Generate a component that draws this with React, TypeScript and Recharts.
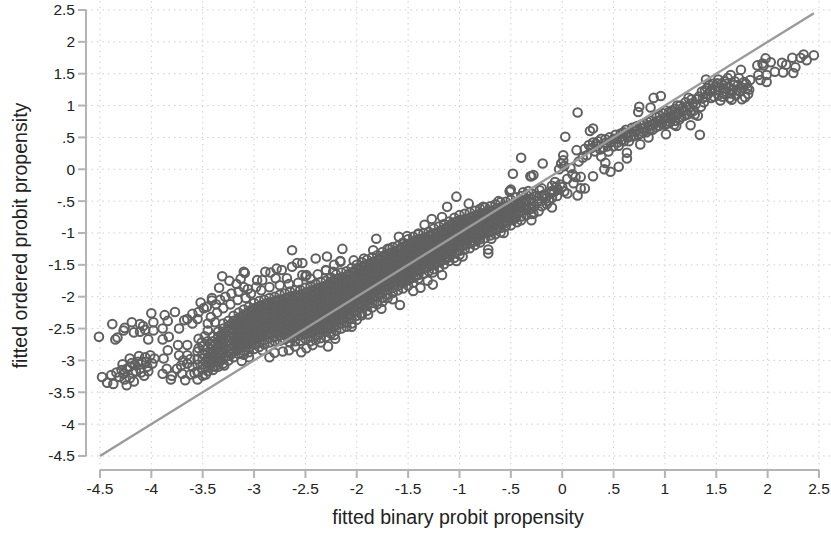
import React from "react";
import {
  ScatterChart,
  Scatter,
  XAxis,
  YAxis,
  CartesianGrid,
  ReferenceLine,
  Label,
} from "recharts";

const axisTicks = [-4.5, -4, -3.5, -3, -2.5, -2, -1.5, -1, -0.5, 0, 0.5, 1, 1.5, 2, 2.5];

// [binary fit, ordered fit] readings, outside the solid band
const upperArm = [
  [-4.51, -2.63], [-4.38, -2.43], [-4.35, -2.67], [-4.33, -2.64], [-4.27, -2.53], [-4.26, -2.49], [-4.19, -2.4],
  [-4.17, -2.56], [-4.11, -2.43], [-4.11, -2.55], [-4.06, -2.52], [-4.0, -2.26], [-4.03, -2.67], [-3.98, -2.4],
  [-3.98, -2.53], [-4.08, -2.46], [-3.87, -2.29], [-3.89, -2.5], [-3.89, -2.67], [-3.83, -2.63], [-3.84, -2.38],
  [-3.77, -2.24], [-3.73, -2.5], [-3.68, -2.37], [-3.65, -2.35], [-3.6, -2.27], [-3.6, -2.42], [-3.55, -2.35],
  [-3.54, -2.24], [-3.49, -2.18], [-3.46, -2.16], [-3.52, -2.09], [-3.41, -2.02], [-3.41, -2.06], [-3.34, -1.86],
  [-3.31, -1.68], [-3.24, -1.75], [-3.17, -1.8], [-3.1, -1.61], [-3.09, -1.63], [-3.13, -1.72], [-3.1, -1.85],
  [-2.97, -1.74], [-2.92, -1.74], [-2.89, -1.61], [-2.84, -1.62], [-2.78, -1.56], [-2.73, -1.58], [-2.63, -1.27],
  [-2.63, -1.53], [-2.58, -1.47], [-2.53, -1.47], [-2.53, -1.66], [-2.49, -1.66], [-2.4, -1.4], [-2.29, -1.37],
  [-2.68, -1.71], [-2.79, -1.71], [-2.3, -1.59], [-2.16, -1.45], [-3.37, -2.12], [-3.33, -2.05], [-3.28, -2.0],
  [-3.22, -1.95], [-3.15, -1.92], [-3.06, -1.88], [-2.98, -1.85], [-3.36, -2.25], [-3.3, -2.18], [-3.23, -2.12],
  [-3.16, -2.05], [-3.08, -2.02], [-3.42, -2.32], [-3.45, -2.42], [-3.38, -2.4], [-3.03, -1.95], [-2.93, -1.9],
  [-2.85, -1.85], [-2.75, -1.82], [-2.66, -1.8], [-2.57, -1.78], [-2.45, -1.72], [-2.38, -1.65], [-2.22, -1.5],
];

const lowerTail = [
  [-4.48, -3.26], [-4.43, -3.35], [-4.39, -3.23], [-4.37, -3.37], [-4.31, -3.26], [-4.28, -3.06], [-4.24, -3.39],
  [-4.27, -3.21], [-4.21, -2.97], [-4.21, -3.1], [-4.21, -3.28], [-4.17, -3.33], [-4.15, -3.17], [-4.12, -2.93],
  [-4.11, -3.13], [-4.07, -3.24], [-4.06, -2.95], [-4.04, -3.1], [-4.01, -2.92], [-3.99, -3.05], [-4.03, -3.17],
  [-3.89, -3.21], [-3.85, -3.13], [-3.88, -2.97], [-3.81, -3.3], [-3.8, -3.24], [-3.84, -2.84], [-3.74, -2.76],
  [-3.73, -2.92], [-3.75, -3.13], [-3.7, -3.21], [-3.67, -3.31], [-3.65, -2.76], [-3.65, -2.92], [-3.65, -3.05],
  [-3.54, -2.66], [-3.54, -2.81], [-3.55, -3.3], [-3.5, -3.24], [-3.47, -3.22], [-3.45, -2.53], [-3.38, -3.1],
  [-3.29, -3.08], [-3.12, -3.01], [-3.05, -2.95], [-2.92, -2.84], [-2.85, -2.95], [-2.66, -2.84], [-2.54, -2.87],
  [-2.49, -2.81], [-2.28, -2.78], [-2.21, -2.66], [-4.34, -3.19], [-4.29, -3.15], [-4.24, -3.13], [-4.19, -3.04],
  [-4.16, -3.07], [-4.13, -3.02], [-4.09, -3.03], [-4.05, -3.02], [-3.97, -2.97], [-4.18, -3.2], [-4.1, -3.19],
  [-4.26, -3.3], [-3.69, -3.0], [-3.62, -2.98], [-3.6, -3.1], [-3.71, -3.08], [-3.58, -3.2], [-3.62, -3.22],
  [-3.51, -2.72], [-3.48, -2.62], [-2.8, -2.88], [-2.72, -2.86], [-2.6, -2.78], [-2.43, -2.76], [-2.35, -2.72],
];

const bandEdges = [
  [-1.81, -1.09], [-2.14, -1.25], [-2.16, -1.44], [-2.3, -1.58], [-2.23, -1.61], [-2.5, -1.68], [-2.03, -1.43],
  [-1.93, -1.4], [-1.84, -1.27], [-1.68, -1.25], [-1.59, -1.06], [-1.51, -1.05], [-1.4, -1.01], [-1.34, -0.87],
  [-1.27, -0.78], [-1.17, -0.75], [-1.12, -0.59], [-1.03, -0.43], [-0.91, -0.54], [-0.77, -0.59], [-0.51, -0.35],
  [-0.48, -0.07], [-0.3, -0.11], [-0.62, -0.5], [-1.58, -2.13], [-1.76, -2.19], [-1.65, -2.04], [-1.89, -2.28],
  [-1.95, -2.29], [-2.05, -2.47], [-2.22, -2.6], [-1.45, -1.91], [-1.38, -1.86], [-1.26, -1.81], [-1.17, -1.66],
  [-1.31, -1.75], [-1.26, -1.62], [-1.03, -1.44], [-0.97, -1.37], [-0.72, -1.32], [-0.72, -1.26], [-0.69, -1.09],
  [-0.57, -1.0], [-0.3, -0.8], [-0.44, -0.83], [-0.4, 0.18], [-0.19, 0.09], [-0.31, -0.11], [-0.28, -0.09],
  [-0.51, -0.34], [-0.5, -0.32], [-0.25, -0.42], [-0.2, -0.5], [-0.15, -0.55], [-0.1, -0.6], [-0.12, -0.38],
  [-0.06, -0.28], [-0.04, -0.32], [-0.02, -0.24], [0.0, -0.28], [-0.07, -0.2], [0.02, -0.35], [-0.08, -0.36],
  [-0.22, -0.33], [-0.18, -0.4], [-0.35, -0.5], [-0.32, -0.62], [-0.27, -0.58], [-0.24, -0.5], [-0.16, -0.46],
  [-0.13, -0.5], [-0.05, -0.42], [-0.28, -0.7], [-0.23, -0.66], [-0.38, -0.36], [-0.33, -0.34],
];

const upperBand = [
  [0.15, 0.89], [0.03, 0.51], [0.3, 0.64], [0.27, 0.6], [0.01, 0.22], [0.01, 0.14], [-0.01, 0.09], [0.14, 0.3],
  [0.75, 0.98], [0.74, 0.9], [0.89, 1.12], [0.96, 1.15], [0.86, 0.97], [1.34, 0.54], [1.25, 0.69], [1.11, 0.68],
  [1.01, 0.55], [0.76, 0.39], [0.84, 0.5], [0.55, 0.04], [0.47, -0.04], [0.41, 0.0], [0.3, -0.11], [0.63, 0.26],
  [0.63, 0.17], [0.42, 0.1], [0.22, -0.3], [0.18, -0.3], [0.15, -0.41], [0.11, -0.22], [0.18, -0.12], [0.13, -0.12],
  [-0.03, 0.0], [0.05, -0.38], [0.02, 0.05], [0.08, 0.02], [0.05, -0.15], [0.1, -0.08], [0.16, 0.12], [0.2, 0.18],
  [0.24, 0.22], [0.22, 0.32], [0.26, 0.38], [0.3, 0.42], [0.32, 0.28], [0.35, 0.44], [0.34, 0.36], [0.38, 0.2],
  [0.38, 0.48], [0.4, 0.34], [0.43, 0.42], [0.45, 0.28], [0.46, 0.5], [0.5, 0.36], [0.5, 0.47], [0.52, 0.54],
  [0.54, 0.42], [0.56, 0.5], [0.57, 0.56], [0.6, 0.44], [0.6, 0.58], [0.62, 0.62], [0.64, 0.5], [0.66, 0.58],
  [0.68, 0.65], [0.7, 0.52], [0.72, 0.6], [0.73, 0.68], [0.76, 0.56], [0.78, 0.64], [0.8, 0.72], [0.82, 0.58],
  [0.84, 0.68], [0.86, 0.76], [0.88, 0.62], [0.9, 0.72], [0.92, 0.82], [0.94, 0.68], [0.96, 0.77], [0.98, 0.88],
  [1.0, 0.7], [1.02, 0.8], [1.04, 0.9], [1.05, 0.74], [1.08, 0.84], [1.1, 0.95], [1.1, 0.76], [1.13, 0.88],
  [1.15, 1.0], [1.16, 0.82], [1.18, 0.92], [1.2, 1.05], [1.22, 0.86], [1.24, 0.98], [1.26, 1.1], [1.28, 0.92],
  [1.3, 1.02], [1.33, 1.14], [1.32, 0.84], [1.36, 1.22], [1.38, 1.05], [1.4, 1.14], [1.4, 1.41], [1.41, 1.27],
  [1.44, 1.22], [1.46, 1.27], [1.48, 1.14], [1.51, 1.35], [1.52, 1.16], [1.52, 1.41], [1.54, 1.08], [1.57, 1.27],
  [1.57, 1.19], [1.61, 1.43], [1.62, 1.29], [1.64, 1.48], [1.64, 1.19], [1.65, 1.09], [1.67, 1.32], [1.7, 1.24],
  [1.72, 1.43], [1.74, 1.56], [1.75, 1.1], [1.77, 1.37], [1.78, 1.13], [1.8, 1.27], [1.82, 1.25], [1.83, 1.4],
  [0.28, 0.33], [0.33, 0.4], [0.37, 0.31], [0.42, 0.47], [0.44, 0.36], [0.48, 0.43], [0.52, 0.48], [0.55, 0.37],
  [0.58, 0.46], [0.62, 0.54], [0.65, 0.44], [0.67, 0.52], [0.71, 0.66], [0.74, 0.54], [0.77, 0.7], [0.79, 0.58],
  [0.83, 0.74], [0.85, 0.62], [0.87, 0.7], [0.91, 0.66], [0.93, 0.76], [0.95, 0.84], [0.97, 0.72], [0.99, 0.8],
  [1.01, 0.92], [1.03, 0.72], [1.06, 0.82], [1.07, 0.92], [1.09, 0.7], [1.11, 0.86], [1.12, 1.0], [1.14, 0.78],
  [1.17, 0.96], [1.19, 0.84], [1.21, 0.98], [1.23, 1.12], [1.25, 0.9], [1.27, 1.04], [1.29, 0.86], [1.31, 1.1],
  [1.35, 0.98], [1.37, 1.12], [1.39, 1.24], [1.42, 1.18], [1.43, 1.32], [1.45, 1.12], [1.47, 1.34], [1.49, 1.24],
  [1.5, 1.3], [1.53, 1.24], [1.55, 1.34], [1.56, 1.14], [1.58, 1.38], [1.59, 1.22], [1.6, 1.34], [1.63, 1.12],
  [1.66, 1.24], [1.68, 1.38], [1.69, 1.16], [1.71, 1.32], [1.73, 1.22], [1.76, 1.28], [1.79, 1.34], [1.81, 1.18],
];

const upperTip = [
  [2.45, 1.79], [2.35, 1.8], [2.38, 1.71], [2.32, 1.75], [2.24, 1.75], [2.27, 1.6], [2.25, 1.51], [2.15, 1.52],
  [2.14, 1.67], [2.07, 1.53], [2.18, 1.64], [1.98, 1.74], [2.03, 1.68], [1.96, 1.63], [1.9, 1.63], [1.95, 1.66],
  [1.99, 1.48], [1.91, 1.48], [1.99, 1.37], [1.93, 1.4],
];

// solid band: one x reading with the ordered fits stacked over it
const coreColumns: [number, number[]][] = [
  [-3.55, [-2.86, -2.98, -3.07, -3.18]],
  [-3.5, [-2.78, -2.9, -2.97, -3.06, -3.14]],
  [-3.45, [-2.7, -2.79, -2.88, -2.95, -3.03, -3.11, -3.17]],
  [-3.4, [-2.62, -2.7, -2.77, -2.86, -2.93, -3.01, -3.09, -3.15]],
  [-3.35, [-2.55, -2.63, -2.72, -2.79, -2.87, -2.95, -3.02, -3.1]],
  [-3.3, [-2.42, -2.5, -2.58, -2.66, -2.74, -2.81, -2.89, -2.97, -3.05]],
  [-3.25, [-2.38, -2.46, -2.54, -2.61, -2.69, -2.77, -2.85, -2.93, -3.0]],
  [-3.2, [-2.3, -2.38, -2.45, -2.53, -2.62, -2.7, -2.78, -2.86, -2.95]],
  [-3.15, [-2.25, -2.34, -2.41, -2.49, -2.57, -2.65, -2.73, -2.81, -2.9]],
  [-3.1, [-2.2, -2.28, -2.36, -2.44, -2.52, -2.6, -2.68, -2.76, -2.85, -2.91]],
  [-3.05, [-2.16, -2.24, -2.32, -2.4, -2.48, -2.56, -2.64, -2.72, -2.8, -2.87]],
  [-3.0, [-2.1, -2.19, -2.27, -2.35, -2.43, -2.51, -2.59, -2.67, -2.75, -2.82]],
  [-2.95, [-2.07, -2.15, -2.23, -2.31, -2.39, -2.47, -2.55, -2.63, -2.71, -2.79]],
  [-2.9, [-2.05, -2.12, -2.2, -2.28, -2.36, -2.44, -2.52, -2.6, -2.68, -2.75]],
  [-2.85, [-2.02, -2.09, -2.17, -2.25, -2.33, -2.41, -2.49, -2.57, -2.65, -2.72]],
  [-2.8, [-2.0, -2.07, -2.15, -2.23, -2.31, -2.39, -2.47, -2.55, -2.63, -2.7]],
  [-2.75, [-1.97, -2.05, -2.13, -2.21, -2.29, -2.37, -2.45, -2.53, -2.61, -2.69]],
  [-2.7, [-1.95, -2.03, -2.11, -2.19, -2.27, -2.35, -2.43, -2.51, -2.59, -2.67]],
  [-2.65, [-1.92, -2.0, -2.08, -2.16, -2.24, -2.32, -2.4, -2.48, -2.56, -2.64, -2.72]],
  [-2.6, [-1.9, -1.98, -2.06, -2.14, -2.22, -2.3, -2.38, -2.46, -2.54, -2.62, -2.7]],
  [-2.55, [-1.89, -1.97, -2.05, -2.13, -2.21, -2.29, -2.37, -2.45, -2.53, -2.61, -2.69]],
  [-2.5, [-1.86, -1.94, -2.02, -2.1, -2.18, -2.26, -2.34, -2.42, -2.5, -2.58, -2.66]],
  [-2.45, [-1.83, -1.91, -1.99, -2.07, -2.15, -2.23, -2.31, -2.39, -2.47, -2.55, -2.63, -2.7]],
  [-2.4, [-1.8, -1.88, -1.96, -2.04, -2.12, -2.2, -2.28, -2.36, -2.44, -2.52, -2.6, -2.68]],
  [-2.35, [-1.77, -1.85, -1.93, -2.01, -2.09, -2.17, -2.25, -2.33, -2.41, -2.49, -2.57, -2.65]],
  [-2.3, [-1.75, -1.83, -1.91, -1.99, -2.07, -2.15, -2.23, -2.31, -2.39, -2.47, -2.55, -2.63]],
  [-2.25, [-1.7, -1.78, -1.86, -1.94, -2.02, -2.1, -2.18, -2.26, -2.34, -2.42, -2.5, -2.58]],
  [-2.2, [-1.65, -1.73, -1.81, -1.89, -1.97, -2.05, -2.13, -2.21, -2.29, -2.37, -2.45, -2.53]],
  [-2.15, [-1.62, -1.7, -1.78, -1.86, -1.94, -2.02, -2.1, -2.18, -2.26, -2.34, -2.42, -2.5]],
  [-2.1, [-1.6, -1.68, -1.76, -1.84, -1.92, -2.0, -2.08, -2.16, -2.24, -2.32, -2.4, -2.47]],
  [-2.05, [-1.55, -1.63, -1.71, -1.79, -1.87, -1.95, -2.03, -2.11, -2.19, -2.27, -2.35, -2.42]],
  [-2.0, [-1.5, -1.58, -1.66, -1.74, -1.82, -1.9, -1.98, -2.06, -2.14, -2.22, -2.3, -2.36]],
  [-1.95, [-1.46, -1.54, -1.62, -1.7, -1.78, -1.86, -1.94, -2.02, -2.1, -2.18, -2.26]],
  [-1.9, [-1.42, -1.5, -1.58, -1.66, -1.74, -1.82, -1.9, -1.98, -2.06, -2.14, -2.22]],
  [-1.85, [-1.38, -1.46, -1.54, -1.62, -1.7, -1.78, -1.86, -1.94, -2.02, -2.1, -2.17]],
  [-1.8, [-1.35, -1.43, -1.51, -1.59, -1.67, -1.75, -1.83, -1.91, -1.99, -2.07, -2.12]],
  [-1.75, [-1.3, -1.38, -1.46, -1.54, -1.62, -1.7, -1.78, -1.86, -1.94, -2.02, -2.08]],
  [-1.7, [-1.25, -1.33, -1.41, -1.49, -1.57, -1.65, -1.73, -1.81, -1.89, -1.97, -2.02]],
  [-1.65, [-1.22, -1.3, -1.38, -1.46, -1.54, -1.62, -1.7, -1.78, -1.86, -1.94]],
  [-1.6, [-1.2, -1.27, -1.35, -1.43, -1.51, -1.59, -1.67, -1.75, -1.83, -1.9]],
  [-1.55, [-1.15, -1.23, -1.31, -1.39, -1.47, -1.55, -1.63, -1.71, -1.79, -1.87]],
  [-1.5, [-1.1, -1.18, -1.26, -1.34, -1.42, -1.5, -1.58, -1.66, -1.74, -1.83]],
  [-1.45, [-1.06, -1.14, -1.22, -1.3, -1.38, -1.46, -1.54, -1.62, -1.7, -1.78]],
  [-1.4, [-1.02, -1.1, -1.18, -1.26, -1.34, -1.42, -1.5, -1.58, -1.66, -1.72]],
  [-1.35, [-1.0, -1.08, -1.16, -1.24, -1.32, -1.4, -1.48, -1.56, -1.64]],
  [-1.3, [-0.98, -1.05, -1.13, -1.21, -1.29, -1.37, -1.45, -1.53, -1.6]],
  [-1.25, [-0.93, -1.01, -1.09, -1.17, -1.25, -1.33, -1.41, -1.49, -1.57]],
  [-1.2, [-0.9, -0.98, -1.06, -1.14, -1.22, -1.3, -1.38, -1.46, -1.54]],
  [-1.15, [-0.86, -0.94, -1.02, -1.1, -1.18, -1.26, -1.34, -1.42, -1.49]],
  [-1.1, [-0.82, -0.9, -0.98, -1.06, -1.14, -1.22, -1.3, -1.38, -1.44]],
  [-1.05, [-0.76, -0.84, -0.92, -1.0, -1.08, -1.16, -1.24, -1.32, -1.39]],
  [-1.0, [-0.72, -0.8, -0.88, -0.96, -1.04, -1.12, -1.2, -1.28, -1.34]],
  [-0.95, [-0.7, -0.78, -0.86, -0.94, -1.02, -1.1, -1.18, -1.26]],
  [-0.9, [-0.68, -0.76, -0.84, -0.92, -1.0, -1.08, -1.16, -1.24]],
  [-0.85, [-0.65, -0.73, -0.81, -0.89, -0.97, -1.05, -1.13, -1.19]],
  [-0.8, [-0.62, -0.7, -0.78, -0.86, -0.94, -1.02, -1.1, -1.15]],
  [-0.75, [-0.6, -0.68, -0.76, -0.84, -0.92, -1.0, -1.08]],
  [-0.7, [-0.58, -0.66, -0.74, -0.82, -0.9, -0.98, -1.04]],
  [-0.65, [-0.55, -0.63, -0.71, -0.79, -0.87, -0.95, -1.02]],
  [-0.6, [-0.52, -0.6, -0.68, -0.76, -0.84, -0.92, -0.99]],
  [-0.55, [-0.51, -0.59, -0.67, -0.75, -0.83, -0.9]],
  [-0.5, [-0.48, -0.56, -0.64, -0.72, -0.8, -0.88]],
  [-0.45, [-0.44, -0.52, -0.6, -0.68, -0.76]],
  [-0.4, [-0.42, -0.5, -0.58, -0.66, -0.74, -0.8]],
  [-0.35, [-0.4, -0.48, -0.56, -0.64, -0.72]],
  [-0.3, [-0.38, -0.46, -0.54, -0.62, -0.7]],
  [-0.2, [-0.3, -0.42, -0.58]],
  [-0.1, [-0.26, -0.34, -0.45]],
];

// more readings packed into the same band, where single rings can't be told apart
const coreInfill: [number, number[]][] = [
  [-3.42, [-2.74, -2.83, -2.9, -2.98, -3.06]],
  [-3.32, [-2.6, -2.69, -2.77, -2.84, -2.92, -3.0]],
  [-3.22, [-2.43, -2.51, -2.57, -2.65, -2.74, -2.82, -2.9]],
  [-3.17, [-2.37, -2.45, -2.53, -2.6, -2.69, -2.76, -2.84]],
  [-3.12, [-2.31, -2.39, -2.47, -2.55, -2.63, -2.71, -2.79]],
  [-3.07, [-2.27, -2.35, -2.43, -2.51, -2.59, -2.67, -2.75]],
  [-3.03, [-2.21, -2.29, -2.37, -2.45, -2.53, -2.61, -2.69]],
  [-2.98, [-2.17, -2.25, -2.33, -2.41, -2.49, -2.57, -2.65]],
  [-2.93, [-2.14, -2.22, -2.3, -2.38, -2.46, -2.54, -2.62]],
  [-2.88, [-2.11, -2.19, -2.27, -2.35, -2.43, -2.51, -2.59]],
  [-2.83, [-2.09, -2.17, -2.25, -2.33, -2.41, -2.49, -2.57]],
  [-2.78, [-2.06, -2.14, -2.22, -2.3, -2.38, -2.46, -2.54]],
  [-2.73, [-2.05, -2.13, -2.2, -2.28, -2.36, -2.44, -2.52]],
  [-2.68, [-2.02, -2.1, -2.18, -2.26, -2.34, -2.42, -2.5, -2.58]],
  [-2.63, [-2.0, -2.08, -2.16, -2.24, -2.32, -2.4, -2.48, -2.56]],
  [-2.58, [-1.99, -2.07, -2.15, -2.23, -2.31, -2.39, -2.47, -2.55]],
  [-2.53, [-1.96, -2.04, -2.12, -2.2, -2.28, -2.36, -2.44, -2.52]],
  [-2.48, [-1.93, -2.01, -2.09, -2.17, -2.25, -2.33, -2.41, -2.49, -2.57]],
  [-2.43, [-1.9, -1.98, -2.06, -2.14, -2.22, -2.3, -2.38, -2.46, -2.54]],
  [-2.38, [-1.87, -1.95, -2.03, -2.11, -2.19, -2.27, -2.35, -2.43, -2.51]],
  [-2.33, [-1.85, -1.93, -2.01, -2.09, -2.17, -2.25, -2.33, -2.41, -2.49]],
  [-2.28, [-1.8, -1.88, -1.96, -2.04, -2.12, -2.2, -2.28, -2.36, -2.44]],
  [-2.23, [-1.75, -1.83, -1.91, -1.99, -2.07, -2.15, -2.23, -2.31, -2.39]],
  [-2.18, [-1.72, -1.8, -1.88, -1.96, -2.04, -2.12, -2.2, -2.28, -2.36]],
  [-2.13, [-1.7, -1.78, -1.86, -1.94, -2.02, -2.1, -2.18, -2.26, -2.34]],
  [-2.08, [-1.65, -1.73, -1.81, -1.89, -1.97, -2.05, -2.13, -2.21, -2.29]],
  [-2.03, [-1.6, -1.68, -1.76, -1.84, -1.92, -2.0, -2.08, -2.16, -2.24]],
  [-1.98, [-1.56, -1.64, -1.72, -1.8, -1.88, -1.96, -2.04, -2.12]],
  [-1.93, [-1.52, -1.6, -1.68, -1.76, -1.84, -1.92, -2.0, -2.08]],
  [-1.88, [-1.48, -1.56, -1.64, -1.72, -1.8, -1.88, -1.96, -2.04]],
  [-1.83, [-1.45, -1.53, -1.61, -1.69, -1.77, -1.85, -1.93, -2.01]],
  [-1.78, [-1.4, -1.48, -1.56, -1.64, -1.72, -1.8, -1.88, -1.96]],
  [-1.73, [-1.35, -1.43, -1.51, -1.59, -1.67, -1.75, -1.83, -1.91]],
  [-1.68, [-1.32, -1.4, -1.48, -1.56, -1.64, -1.72, -1.8]],
  [-1.63, [-1.29, -1.37, -1.45, -1.53, -1.61, -1.69, -1.77]],
  [-1.58, [-1.25, -1.33, -1.41, -1.49, -1.57, -1.65, -1.73]],
  [-1.53, [-1.2, -1.28, -1.36, -1.44, -1.52, -1.6, -1.68, -1.76]],
  [-1.48, [-1.16, -1.24, -1.32, -1.4, -1.48, -1.56, -1.64, -1.72]],
  [-1.43, [-1.12, -1.2, -1.28, -1.36, -1.44, -1.52, -1.6, -1.68]],
  [-1.38, [-1.1, -1.18, -1.26, -1.34, -1.42, -1.5, -1.58]],
  [-1.33, [-1.07, -1.15, -1.23, -1.31, -1.39, -1.47, -1.55]],
  [-1.28, [-1.03, -1.11, -1.19, -1.27, -1.35, -1.43, -1.51]],
  [-1.23, [-1.0, -1.08, -1.16, -1.24, -1.32, -1.4, -1.48]],
  [-1.18, [-0.96, -1.04, -1.12, -1.2, -1.28, -1.36, -1.44]],
  [-1.13, [-0.92, -1.0, -1.08, -1.16, -1.24, -1.32, -1.4]],
  [-1.08, [-0.86, -0.94, -1.02, -1.1, -1.18, -1.26, -1.34]],
  [-1.03, [-0.82, -0.9, -0.98, -1.06, -1.14, -1.22, -1.3]],
  [-0.98, [-0.8, -0.88, -0.96, -1.04, -1.12, -1.2]],
  [-0.93, [-0.78, -0.86, -0.94, -1.02, -1.1, -1.18]],
  [-0.88, [-0.75, -0.83, -0.91, -0.99, -1.07, -1.15]],
  [-0.83, [-0.72, -0.8, -0.88, -0.96, -1.04, -1.1]],
  [-0.78, [-0.7, -0.78, -0.86, -0.94, -1.02]],
  [-0.73, [-0.68, -0.76, -0.84, -0.92, -1.0]],
  [-0.68, [-0.65, -0.73, -0.81, -0.89, -0.97]],
  [-0.63, [-0.62, -0.7, -0.78, -0.86, -0.94]],
  [-0.58, [-0.61, -0.69, -0.77, -0.85]],
  [-0.53, [-0.58, -0.66, -0.74, -0.82]],
  [-0.47, [-0.54, -0.62, -0.7, -0.78]],
  [-0.42, [-0.52, -0.6, -0.68]],
];

const fitLine = [
  { x: -4.5, y: -4.5 },
  { x: 2.45, y: 2.45 },
];

const pairs = [...upperArm, ...lowerTail, ...bandEdges, ...upperBand, ...upperTip];
const points = [
  ...pairs.map(([x, y]) => ({ x, y })),
  ...coreColumns.flatMap(([x, ys]) => ys.map((y) => ({ x, y }))),
  ...coreInfill.flatMap(([x, ys]) => ys.map((y) => ({ x, y }))),
];

const RingMarker = (props: any) => (
  <circle cx={props.cx} cy={props.cy} r={4.3} fill="none" stroke="#606060" strokeWidth={2} />
);

const NoMarker = () => null;

const tickLabel = (v: number) => String(v).replace("0.", ".");

const axisColor = "#b4b4b4";
const tickText = { fill: "#222", fontSize: 15.5 };

const App = () => {
  return (
    <div style={{ position: "absolute", left: 0, top: 0, fontFamily: "'Liberation Sans', Arial, sans-serif" }}>
      <ScatterChart width={831} height={533} margin={{ top: 1, right: 1, bottom: 9, left: 0 }}>
        <CartesianGrid
          stroke="#cfcfcf"
          strokeDasharray="1.5 4"
          horizontalValues={axisTicks}
          verticalValues={axisTicks}
        />
        <XAxis
          type="number"
          dataKey="x"
          domain={[-4.636, 2.607]}
          ticks={axisTicks}
          interval={0}
          allowDataOverflow
          axisLine={false}
          height={54}
          tickSize={8}
          tickMargin={5}
          tick={tickText}
          tickLine={{ stroke: axisColor, strokeWidth: 2 }}
          tickFormatter={tickLabel}
        >
          <Label
            value="fitted binary probit propensity"
            position="insideBottom"
            offset={0}
            style={{ fill: "#222", fontSize: 19.6 }}
          />
        </XAxis>
        <YAxis
          type="number"
          dataKey="y"
          domain={[-4.72, 2.641]}
          ticks={axisTicks}
          interval={0}
          allowDataOverflow
          axisLine={false}
          width={86}
          tickSize={8}
          tickMargin={3}
          tick={tickText}
          tickLine={{ stroke: axisColor, strokeWidth: 2 }}
          tickFormatter={tickLabel}
        >
          <Label
            value="fitted ordered probit propensity"
            angle={-90}
            position="insideLeft"
            offset={20}
            style={{ fill: "#222", fontSize: 19.6, textAnchor: "middle" }}
          />
        </YAxis>
        <ReferenceLine
          segment={[{ x: -4.636, y: -4.5 }, { x: -4.636, y: 2.5 }]}
          stroke={axisColor}
          strokeWidth={2}
          ifOverflow="visible"
        />
        <ReferenceLine
          segment={[{ x: -4.5, y: -4.72 }, { x: 2.5, y: -4.72 }]}
          stroke={axisColor}
          strokeWidth={2}
          ifOverflow="visible"
        />
        <Scatter data={points} shape={RingMarker} isAnimationActive={false} />
        <Scatter
          data={fitLine}
          line={{ stroke: "#9a9a9a", strokeWidth: 2.4 }}
          shape={NoMarker}
          isAnimationActive={false}
        />
      </ScatterChart>
    </div>
  );
};

export default App;
